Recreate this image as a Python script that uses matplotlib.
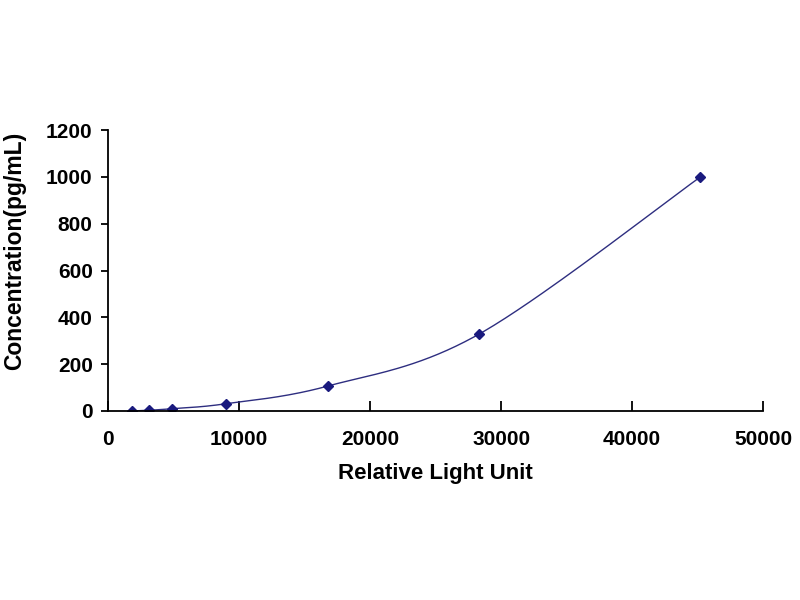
import numpy as np
import matplotlib
matplotlib.use("Agg")
import matplotlib.pyplot as plt

# 標準曲線のデータ
rlu = [1800, 3100, 4900, 9000, 16800, 28300, 45200]
conc = [0, 3, 10, 31, 107, 328, 1000]

xticks = [0, 10000, 20000, 30000, 40000, 50000]
yticks = [0, 200, 400, 600, 800, 1000, 1200]

# Excel風のスムージング (Catmull-Rom)
def smooth(x, y, n=40):
    x = np.asarray(x, float)
    y = np.asarray(y, float)
    px = np.concatenate([[x[0]], x, [x[-1]]])
    py = np.concatenate([[y[0]], y, [y[-1]]])
    xs, ys = [], []
    t = np.linspace(0, 1, n)
    for i in range(1, len(px) - 2):
        for p, out in ((px, xs), (py, ys)):
            p0, p1, p2, p3 = p[i-1], p[i], p[i+1], p[i+2]
            c = 0.5 * ((2*p1) + (-p0 + p2)*t + (2*p0 - 5*p1 + 4*p2 - p3)*t**2
                       + (-p0 + 3*p1 - 3*p2 + p3)*t**3)
            out.extend(c)
    return np.array(xs), np.array(ys)

plt.rcParams['font.family'] = ['Liberation Sans', 'DejaVu Sans']

fig = plt.figure(figsize=(8, 6), dpi=100)
ax = fig.add_axes([0.135, 0.315, 0.819, 0.468])

sx, sy = smooth(rlu, conc)
ax.plot(sx, sy, color="#2e2e80", linewidth=1.0)
ax.plot(rlu, conc, linestyle="none", marker="D", markersize=5.5, color="#1a1a7e")

ax.set_xlim(0, 50000)
ax.set_ylim(0, 1200)
ax.set_xticks(xticks)
ax.set_yticks(yticks)
ax.set_xticklabels([str(v) for v in xticks], fontsize=15, fontweight="bold")
ax.set_yticklabels([str(v) for v in yticks], fontsize=15, fontweight="bold")
ax.tick_params(axis="x", direction="in", length=7, width=1.3, pad=14)
ax.tick_params(axis="y", direction="out", length=5, width=1.3, pad=6)

for s in ["top", "right"]:
    ax.spines[s].set_visible(False)
for s in ["left", "bottom"]:
    ax.spines[s].set_linewidth(1.3)

ax.set_xlabel("Relative Light Unit", fontsize=16, fontweight="bold", labelpad=10)
ax.set_ylabel("Concentration(pg/mL)", fontsize=16.5, fontweight="bold")
ax.yaxis.set_label_coords(-0.125, 0.57)

fig.savefig("out.png", dpi=100)
